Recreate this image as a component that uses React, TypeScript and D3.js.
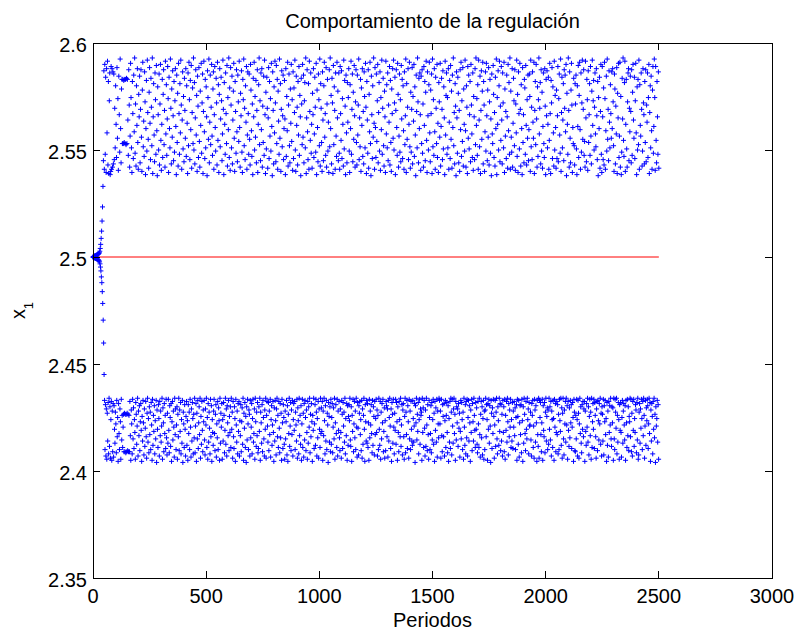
import React from "react";
import * as d3 from "d3";

// ---------- data ----------
const xTicks = [0, 500, 1000, 1500, 2000, 2500, 3000];
const yTicks = [2.35, 2.4, 2.45, 2.5, 2.55, 2.6];
const title = "Comportamiento de la regulación";
const xLabel = "Periodos";
const setpoint = 2.5;
const setpointEnd = 2500;
const lastPeriod = 2500;

// periods 0..44, one value per period
const transient = [
  2.5, 2.4999, 2.5002, 2.4998, 2.5003, 2.4997, 2.5004, 2.4996, 2.5005, 2.4995,
  2.5006, 2.4994, 2.5007, 2.4993, 2.5008, 2.4992, 2.5009, 2.4991, 2.501, 2.499,
  2.5011, 2.4988, 2.5012, 2.4987, 2.5014, 2.4985, 2.5016, 2.4982, 2.502, 2.4977,
  2.5027, 2.4968, 2.504, 2.4953, 2.5059, 2.4935, 2.5087, 2.4907, 2.5121, 2.488,
  2.5168, 2.4838, 2.5234, 2.4783, 2.533,
];
// periods 45, 47, 49
const lowerEntry = [2.4705, 2.4598, 2.4451];

// upper band: value = 2.538 + code * 0.0005, periods 46, 48, 50, ...
const upperBase = 2.538;
const upperStart = 46;
const upperCodes = [
  14,98,6,104,20,92,3,100,40,107,10,88,2,70,96,1,4,102,6,100,
  8,97,11,95,15,63,26,84,48,17,101,35,72,5,93,57,22,109,44,12,
  81,90,30,90,30,89,31,90,30,90,29,91,30,90,52,19,99,66,8,37,
  105,73,26,3,88,58,16,94,41,110,21,67,9,84,47,100,31,6,76,55,
  93,12,62,99,36,4,80,106,27,51,18,97,69,1,44,89,23,108,59,34,
  7,78,101,49,15,91,64,28,110,2,55,86,38,13,96,71,20,103,42,0,
  83,57,24,95,10,67,104,33,5,48,90,17,76,99,29,61,8,107,39,85,
  19,53,102,72,3,92,44,26,109,63,11,81,36,98,56,14,88,22,70,100,
  46,1,94,31,77,9,105,58,20,86,40,108,66,6,52,97,25,74,13,91,
  61,35,100,18,84,49,2,96,28,106,71,15,89,43,103,7,59,82,30,110,
  24,87,11,54,99,38,75,4,93,65,17,101,32,8,79,47,105,21,68,95,
  2,60,107,41,16,90,26,83,55,0,98,73,34,109,12,50,94,29,64,104,
  37,19,81,97,6,57,102,45,23,91,68,10,106,33,85,3,76,100,27,53,
  92,70,14,39,108,62,1,87,48,20,96,58,30,103,9,73,43,110,17,82,
  5,101,66,26,93,11,52,79,105,35,4,88,60,21,99,41,13,94,69,32,
  107,45,8,77,56,98,22,3,90,71,109,28,63,15,84,50,102,6,38,97,
  58,20,95,34,10,104,80,42,18,67,1,91,55,106,24,74,36,89,12,61,
  99,3,48,85,110,29,70,14,96,43,100,8,65,31,93,19,108,57,2,78,
  25,92,63,7,54,101,16,88,37,72,23,105,46,0,97,61,11,83,40,107,
  68,13,103,30,90,6,79,51,20,109,35,86,4,62,98,27,56,94,15,44,
  89,53,1,100,18,74,42,106,9,66,95,28,12,81,49,104,32,71,5,97,
  16,82,59,108,24,4,93,47,64,10,88,38,102,19,75,55,0,91,67,29,
  104,36,94,12,70,87,26,110,2,54,99,41,15,86,6,107,60,33,96,21,
  48,7,77,57,100,17,39,92,64,22,105,1,80,45,13,95,71,28,109,9,
  86,63,31,4,97,52,14,84,106,36,58,19,101,8,67,90,23,50,3,99,
  27,110,44,75,11,91,68,2,103,29,83,61,6,96,37,18,106,54,79,14,
  96,21,6,102,58,33,98,16,72,48,9,108,25,89,65,1,94,40,12,87,
  50,73,100,23,3,85,44,107,20,62,95,13,78,34,103,56,8,69,99,31,
  10,94,38,66,109,15,54,27,90,4,82,47,100,18,60,11,97,74,26,105,
  64,2,88,52,21,99,7,76,41,106,30,0,93,57,16,84,36,110,49,6,
  101,45,17,95,32,70,104,12,59,87,23,97,5,73,43,108,20,63,91,28,
  9,79,55,3,107,39,85,26,96,14,66,50,102,10,89,31,4,81,58,100,
  35,108,24,68,92,1,61,99,45,19,105,76,8,37,95,22,71,13,103,53,
  90,16,84,42,6,97,29,56,109,3,86,34,64,100,15,48,106,27,7,78,
  22,62,101,11,74,51,104,18,83,38,0,94,60,26,110,69,12,91,44,96,
  57,5,93,30,99,21,67,8,102,47,88,14,78,107,33,3,97,56,24,85,
  106,40,13,80,58,95,2,109,27,71,19,100,41,6,92,63,30,104,17,49,
  3,87,69,36,105,9,46,91,62,15,98,25,83,54,1,107,38,75,96,20,
  73,26,100,6,50,89,16,103,34,79,7,94,45,110,28,59,11,86,65,0,
  97,54,21,92,77,12,61,4,99,43,106,18,70,32,101,9,81,48,23,108,
  42,8,84,64,2,102,35,94,25,57,88,13,104,66,39,17,96,5,74,55,
  15,100,29,110,47,72,19,85,6,108,52,27,93,2,61,98,34,79,106,11,
  88,66,4,41,97,23,105,56,14,80,36,101,10,69,90,21,53,0,95,39,
  30,103,76,17,59,9,92,44,109,1,73,48,98,24,84,107,13,65,33,102,
  52,11,96,68,26,106,3,81,37,60,16,94,55,7,104,42,87,20,110,6,
  79,36,22,100,8,49,91,70,28,99,5,67,40,108,18,76,3,97,58,25,
  105,62,9,85,44,1,101,31,57,12,90,82,20,103,47,10,71,35,94,14,
  43,95,74,4,108,27,64,15,97,50,35,106,2,61,88,29,104,53,8,83,
  18,71,110,39,63,87,11,99,23,78,7,46,96,30,17,100,65,1,90,56,
  98,26,48,92,6,33,105,58,2,89,68,101,16,83,40,9,107,24,75,45,
  7,80,16,56,102,13,72,95,38,21,109,4,59,92,26,52,86,14,99,63,
  94,41,104,0,77,48,20,110,61,8,97,35,12,80,105,66,3,45,30,91,
  28,10,86,67,94,25,1,84,46,103,17,75,106,43,6,96,22,68,108,34,
  62,99,19,32,8,107,54,13,90,71,5,98,31,57,86,19,102,37,11,79,
  108,47,70,89,24,64,96,39,27,100,56,15,88,0,73,44,92,7,60,104,
  20,3,102,55,15,82,10,106,72,6,42,93,23,109,34,62,14,98,50,26,
  85,58,35,97,44,100,69,28,4,95,81,11,65,39,101,2,77,54,105,17,
  37,106,8,74,1,22,91,53,110,33,18,87,107,4,48,90,25,8,69,96,
  100,14,63,41,93,60,12,99,19,78,104,52,35,92,16,70,105,40,1,83,
  24,90,29,108,6,85,47,37,96,62,9,23,100,68,57,11,88,31,99,13,
  66,50,96,17,73,104,2,59,84,26,93,42,6,80,102,21,46,109,73,5,
  102,33,12,88,55,20,97,7,45,106,64,15,95,38,3,85,58,27,94,49,
];

// lower band: value = 2.404 + code * 0.0005, periods 51, 53, 55, ...
const lowerBase = 2.404;
const lowerStart = 51;
const lowerCodes = [
  58,12,54,6,50,3,46,20,56,8,60,15,52,4,40,57,2,48,10,55,
  5,53,31,18,47,36,9,58,24,42,1,55,27,12,50,38,3,59,21,44,
  14,33,45,10,46,10,45,9,45,10,46,11,45,10,44,10,57,25,2,49,
  36,8,59,22,51,13,40,28,3,56,45,17,34,60,6,48,25,53,11,38,
  55,30,1,43,20,58,37,7,50,15,32,57,24,4,46,60,19,41,9,52,
  26,47,12,56,35,2,59,16,44,29,53,8,39,22,58,0,49,31,14,54,
  41,6,57,25,48,19,34,60,3,51,37,10,55,27,44,13,59,23,7,46,
  18,59,30,9,53,42,15,55,1,38,57,21,48,33,5,60,26,50,12,35,
  52,3,45,24,60,11,49,29,56,8,40,18,58,0,47,36,14,54,31,6,
  43,57,16,39,2,54,27,47,12,59,33,5,50,20,56,41,8,45,23,60,
  9,34,55,1,46,22,58,13,37,52,26,60,4,43,17,57,30,10,49,38,
  58,21,7,50,35,60,14,42,3,55,19,47,32,8,59,24,53,1,40,28,
  16,48,59,27,11,45,54,5,36,23,57,12,51,39,2,60,18,46,33,55,
  3,40,20,56,44,9,30,60,17,50,6,53,37,25,58,11,43,28,52,14,
  60,31,47,4,57,24,13,52,41,1,59,35,19,48,8,55,29,57,6,39,
  25,54,10,38,51,17,60,2,46,32,56,14,43,0,52,21,59,36,12,49,
  45,6,58,23,33,55,8,41,59,19,27,50,3,60,38,15,47,25,56,9,
  13,52,29,60,2,47,37,18,54,10,58,42,22,6,49,31,60,4,44,57,
  34,19,56,11,48,26,59,5,40,53,16,35,57,28,1,51,20,58,39,7,
  50,60,24,44,14,57,32,9,55,23,46,2,59,37,13,54,42,17,3,48,
  22,38,58,7,53,1,45,27,60,15,34,56,11,49,26,58,6,40,55,30,
  57,12,47,35,20,59,4,51,39,8,60,25,44,17,53,2,36,59,14,46,
  5,55,21,58,42,11,49,28,3,57,18,52,33,60,9,45,24,55,38,1,
  44,30,60,13,36,54,16,59,47,6,41,23,57,4,50,31,14,60,27,51,
  29,57,2,48,25,60,39,8,53,20,58,12,46,35,0,56,43,19,52,10,
  59,17,42,55,9,33,51,22,60,3,37,54,27,14,59,6,48,30,57,23,
  11,50,28,4,58,45,13,56,34,47,19,60,8,41,25,55,2,53,16,43,
  54,39,60,21,15,52,1,44,29,59,10,36,57,23,48,12,60,33,5,56,
  32,7,53,46,57,26,40,11,58,4,50,17,44,60,31,1,54,38,20,58,
  18,55,14,37,2,59,23,48,35,54,27,9,58,16,52,43,7,57,26,41,
  59,28,49,6,44,12,60,31,16,57,3,47,22,55,37,59,10,29,51,4,
  39,11,57,53,24,50,5,58,20,42,60,34,13,50,1,56,45,18,59,33,
  8,46,30,59,17,56,38,2,52,28,10,57,40,24,60,15,35,54,7,49,
  55,24,3,43,60,9,47,26,58,13,53,38,4,59,22,48,12,57,31,20,
  16,58,41,19,34,55,0,53,37,60,21,45,29,56,8,40,59,17,50,44,
  47,2,60,28,51,14,58,32,6,49,15,60,35,11,54,26,3,58,42,12,
  27,53,9,56,21,40,59,17,46,1,57,30,51,19,59,5,48,36,23,60,
  58,36,48,4,59,25,10,54,43,24,55,6,39,58,14,44,56,28,9,53,
  1,41,19,57,13,60,47,7,59,34,18,50,60,27,45,2,57,21,52,37,
  50,15,55,32,46,5,29,58,22,56,40,12,47,3,60,33,16,54,8,57,
  23,59,6,42,58,20,53,37,1,49,28,59,11,55,38,20,60,44,30,14,
  56,31,51,17,9,57,36,14,60,26,5,45,57,23,52,7,41,58,3,48,
  12,49,60,24,54,40,2,55,31,59,18,53,34,0,58,46,13,51,27,59,
  43,4,35,58,15,47,60,22,8,52,39,16,60,29,55,11,54,20,45,6,
  58,28,52,10,59,3,44,30,57,19,60,38,7,55,24,49,33,59,14,40,
  20,56,13,48,33,57,25,51,12,42,54,2,59,43,17,58,5,37,53,26,
  54,9,59,39,1,52,18,60,45,27,11,57,31,22,60,40,50,8,56,34,
  35,47,21,6,55,44,58,14,34,4,59,49,19,53,37,1,58,26,15,60,
  4,58,42,56,26,10,37,59,2,53,30,24,56,9,47,60,20,43,51,12,
  49,17,60,31,52,21,57,6,48,40,14,58,41,2,59,33,55,10,28,57,
  26,54,8,45,12,59,39,29,60,16,51,4,46,60,22,7,49,36,57,19,
  60,35,53,3,57,30,15,51,23,58,37,54,13,33,56,42,1,59,47,11,
  10,44,22,59,40,6,58,46,4,36,60,27,52,18,9,54,31,57,24,50,
  57,1,48,29,16,55,33,60,19,52,7,43,59,25,47,3,60,14,38,55,
  31,59,13,56,44,24,4,50,57,11,58,39,21,55,36,60,17,46,6,52,
  45,20,59,7,53,38,58,26,41,1,56,16,48,5,57,28,53,35,60,22,
  15,52,37,51,2,60,22,12,59,47,32,60,8,44,19,56,40,3,54,30,
  56,28,5,42,58,18,48,55,35,21,53,2,58,37,14,59,25,52,11,43,
  38,60,24,59,10,46,6,57,30,59,15,41,28,54,49,9,56,21,60,3,
  7,47,55,18,50,32,59,41,12,57,25,60,44,4,34,58,16,51,39,59,
  53,13,36,60,27,56,1,49,20,55,43,8,57,31,60,23,45,0,52,34,
  41,58,19,54,3,47,29,59,10,38,57,21,50,13,56,37,6,60,26,48,
];
const codeStep = 0.0005;

// ---------- layout ----------
const W = 799;
const H = 635;
const M = { left: 93, right: 772, top: 43, bottom: 578 };
const FONT = "'Liberation Sans', Arial, Helvetica, sans-serif";

export default function App() {
  const x = d3.scaleLinear().domain([0, 3000]).range([M.left, M.right]);
  const y = d3.scaleLinear().domain([2.35, 2.6]).range([M.bottom, M.top]);

  const pts: [number, number][] = [];
  transient.forEach((v, i) => pts.push([i, v]));
  lowerEntry.forEach((v, i) => pts.push([45 + 2 * i, v]));
  upperCodes.forEach((c, i) => pts.push([upperStart + 2 * i, upperBase + c * codeStep]));
  lowerCodes.forEach((c, i) => pts.push([lowerStart + 2 * i, lowerBase + c * codeStep]));

  const r = 2.5;
  let d = "";
  for (const [t, v] of pts) {
    if (t > lastPeriod) continue;
    const px = x(t);
    const py = y(v);
    d += `M${(px - r).toFixed(2)},${py.toFixed(2)}h${2 * r}M${px.toFixed(2)},${(py - r).toFixed(2)}v${2 * r}`;
  }

  const tl = 7;
  return (
    <svg
      width={W}
      height={H}
      style={{ position: "absolute", left: 0, top: 0, background: "#fff" }}
      fontFamily={FONT}
    >
      <rect x={0} y={0} width={W} height={H} fill="#fff" />
      <line
        x1={x(0)}
        x2={x(setpointEnd)}
        y1={y(setpoint)}
        y2={y(setpoint)}
        stroke="#ff0000"
        strokeWidth={1}
      />
      <path d={d} stroke="#0000ff" strokeWidth={1} fill="none" />
      <rect
        x={M.left}
        y={M.top}
        width={M.right - M.left}
        height={M.bottom - M.top}
        fill="none"
        stroke="#000"
        strokeWidth={1}
        shapeRendering="crispEdges"
      />
      {xTicks.map((t) => (
        <g key={"xt" + t} shapeRendering="crispEdges">
          <line x1={x(t)} x2={x(t)} y1={M.bottom} y2={M.bottom - tl} stroke="#000" />
          <line x1={x(t)} x2={x(t)} y1={M.top} y2={M.top + tl} stroke="#000" />
        </g>
      ))}
      {yTicks.map((t) => (
        <g key={"yt" + t} shapeRendering="crispEdges">
          <line x1={M.left} x2={M.left + tl} y1={y(t)} y2={y(t)} stroke="#000" />
          <line x1={M.right} x2={M.right - tl} y1={y(t)} y2={y(t)} stroke="#000" />
        </g>
      ))}
      {xTicks.map((t) => (
        <text key={"xl" + t} x={x(t)} y={M.bottom + 25} fontSize={20} textAnchor="middle" fill="#000">
          {String(t)}
        </text>
      ))}
      {yTicks.map((t) => (
        <text key={"yl" + t} x={87} y={y(t) + 8.5} fontSize={20} textAnchor="end" fill="#000">
          {String(t)}
        </text>
      ))}
      <text x={(M.left + M.right) / 2} y={28} fontSize={20} textAnchor="middle" fill="#000">
        {title}
      </text>
      <text x={(M.left + M.right) / 2} y={627} fontSize={20} textAnchor="middle" fill="#000">
        {xLabel}
      </text>
      <text
        transform={`translate(25,${(M.top + M.bottom) / 2}) rotate(-90)`}
        fontSize={20}
        textAnchor="middle"
        fill="#000"
      >
        <tspan>x</tspan>
        <tspan fontSize={13} dy={8}>
          1
        </tspan>
      </text>
    </svg>
  );
}
